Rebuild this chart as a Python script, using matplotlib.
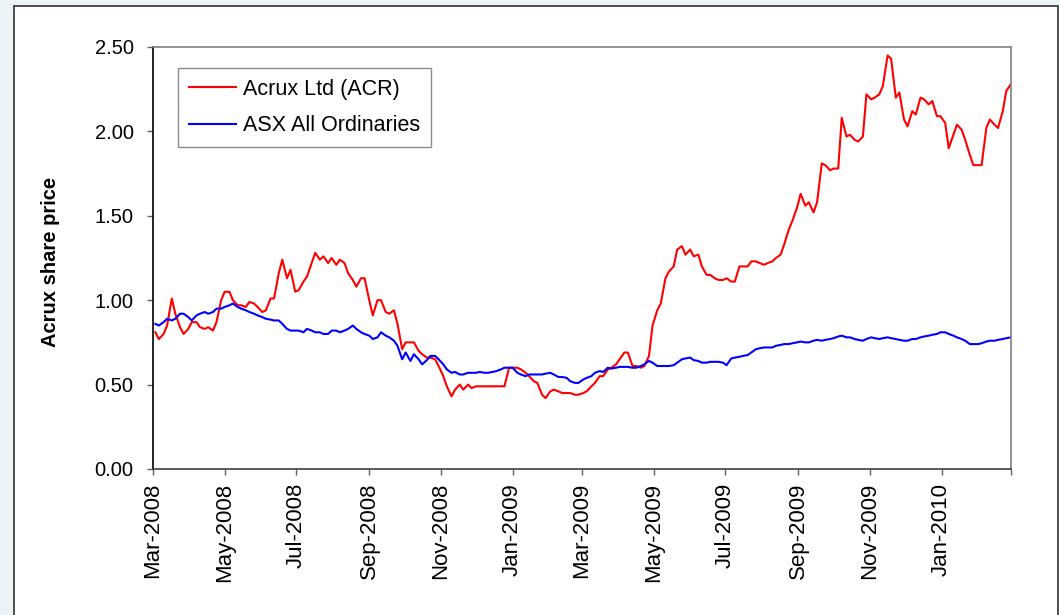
import matplotlib
matplotlib.use("Agg")
import matplotlib.pyplot as plt
import matplotlib.patches as mpatches
import pandas as pd

plt.rcParams['font.family'] = ['Liberation Sans', 'DejaVu Sans']

# weekly dates (Mondays)
dates = [
    "2008-03-03", "2008-03-10", "2008-03-17", "2008-03-24", "2008-03-31",
    "2008-04-07", "2008-04-14", "2008-04-21", "2008-04-28",
    "2008-05-05", "2008-05-12", "2008-05-19", "2008-05-26",
    "2008-06-02", "2008-06-09", "2008-06-16", "2008-06-23", "2008-06-30",
    "2008-07-07", "2008-07-14", "2008-07-21", "2008-07-28",
    "2008-08-04", "2008-08-11", "2008-08-18", "2008-08-25",
    "2008-09-01", "2008-09-08", "2008-09-15", "2008-09-22", "2008-09-29",
    "2008-10-06", "2008-10-13", "2008-10-20", "2008-10-27",
    "2008-11-03", "2008-11-10", "2008-11-17", "2008-11-24",
    "2008-12-01", "2008-12-08", "2008-12-15", "2008-12-22", "2008-12-29",
    "2009-01-05", "2009-01-12", "2009-01-19", "2009-01-26",
    "2009-02-02", "2009-02-09", "2009-02-16", "2009-02-23",
    "2009-03-02", "2009-03-09", "2009-03-16", "2009-03-23", "2009-03-30",
    "2009-04-06", "2009-04-13", "2009-04-20", "2009-04-27",
    "2009-05-04", "2009-05-11", "2009-05-18", "2009-05-25",
    "2009-06-01", "2009-06-08", "2009-06-15", "2009-06-22", "2009-06-29",
    "2009-07-06", "2009-07-13", "2009-07-20", "2009-07-27",
    "2009-08-03", "2009-08-10", "2009-08-17", "2009-08-24", "2009-08-31",
    "2009-09-07", "2009-09-14", "2009-09-21", "2009-09-28",
    "2009-10-05", "2009-10-12", "2009-10-19", "2009-10-26",
    "2009-11-02", "2009-11-09", "2009-11-16", "2009-11-23", "2009-11-30",
    "2009-12-07", "2009-12-14", "2009-12-21", "2009-12-28",
    "2010-01-04", "2010-01-11", "2010-01-18", "2010-01-25",
    "2010-02-01", "2010-02-08", "2010-02-15", "2010-02-22", "2010-03-01",
]

# Acrux closes on Mondays
acr_mon = [
    0.81, 0.80, 1.01, 0.84, 0.83, 0.87, 0.83, 0.82, 1.00, 1.05,
    0.97, 0.96, 0.98, 0.93, 1.01, 1.16, 1.13, 1.05, 1.11, 1.22,
    1.24, 1.22, 1.21, 1.22, 1.12, 1.13, 1.00, 1.00, 0.93, 0.94,
    0.71, 0.75, 0.70, 0.66, 0.65, 0.55, 0.43, 0.50, 0.50, 0.49,
    0.49, 0.49, 0.49, 0.60, 0.60, 0.57, 0.52, 0.44, 0.46, 0.46,
    0.45, 0.44, 0.45, 0.49, 0.55, 0.59, 0.62, 0.69, 0.61, 0.60,
    0.67, 0.94, 1.13, 1.20, 1.32, 1.30, 1.27, 1.15, 1.13, 1.12,
    1.11, 1.20, 1.20, 1.23, 1.21, 1.23, 1.27, 1.42, 1.55, 1.56,
    1.52, 1.81, 1.77, 1.78, 1.97, 1.95, 1.97, 2.19, 2.22, 2.45,
    2.20, 2.07, 2.12, 2.20, 2.16, 2.09, 2.05, 1.98, 2.01, 1.86,
    1.80, 2.02, 2.04, 2.12, 2.28,
]

# Acrux closes on Thursdays (Monday + 3 days)
acr_thu = [
    0.77, 0.85, 0.92, 0.80, 0.87, 0.84, 0.84, 0.87, 1.05, 1.00,
    0.97, 0.99, 0.96, 0.94, 1.01, 1.24, 1.18, 1.06, 1.14, 1.28,
    1.26, 1.25, 1.24, 1.16, 1.08, 1.13, 0.91, 1.00, 0.92, 0.86,
    0.75, 0.75, 0.68, 0.66, 0.61, 0.49, 0.47, 0.47, 0.48, 0.49,
    0.49, 0.49, 0.49, 0.60, 0.59, 0.55, 0.51, 0.42, 0.47, 0.45,
    0.45, 0.44, 0.46, 0.51, 0.55, 0.60, 0.65, 0.69, 0.61, 0.61,
    0.85, 0.98, 1.17, 1.30, 1.27, 1.26, 1.20, 1.15, 1.12, 1.13,
    1.11, 1.20, 1.23, 1.22, 1.22, 1.25, 1.33, 1.47, 1.63, 1.58,
    1.58, 1.80, 1.78, 2.08, 1.98, 1.94, 2.22, 2.20, 2.27, 2.43,
    2.23, 2.03, 2.10, 2.19, 2.18, 2.09, 1.90, 2.04, 1.95, 1.80,
    1.80, 2.07, 2.02, 2.24,
]

# ASX All Ordinaries, rebased, Mondays
asx_mon = [
    0.86, 0.87, 0.88, 0.92, 0.90, 0.91, 0.93, 0.93, 0.95, 0.97,
    0.96, 0.94, 0.92, 0.90, 0.885, 0.88, 0.83, 0.82, 0.81, 0.82,
    0.81, 0.80, 0.82, 0.82, 0.85, 0.81, 0.79, 0.78, 0.79, 0.76,
    0.65, 0.64, 0.65, 0.645, 0.67, 0.62, 0.57, 0.56, 0.57, 0.57,
    0.57, 0.575, 0.59, 0.60, 0.57, 0.55, 0.56, 0.56, 0.57, 0.545,
    0.54, 0.51, 0.53, 0.55, 0.58, 0.60, 0.60, 0.605, 0.60, 0.61,
    0.64, 0.61, 0.61, 0.615, 0.65, 0.66, 0.64, 0.63, 0.635, 0.63,
    0.655, 0.665, 0.675, 0.71, 0.72, 0.72, 0.735, 0.74, 0.75, 0.75,
    0.76, 0.76, 0.77, 0.785, 0.78, 0.77, 0.76, 0.78, 0.77, 0.78,
    0.77, 0.76, 0.77, 0.78, 0.79, 0.80, 0.81, 0.79, 0.77, 0.74,
    0.74, 0.755, 0.76, 0.77, 0.78,
]

# ASX All Ordinaries, rebased, Thursdays
asx_thu = [
    0.85, 0.89, 0.89, 0.92, 0.88, 0.92, 0.92, 0.95, 0.96, 0.98,
    0.95, 0.93, 0.91, 0.89, 0.88, 0.86, 0.82, 0.82, 0.83, 0.81,
    0.80, 0.82, 0.81, 0.83, 0.83, 0.80, 0.77, 0.81, 0.78, 0.73,
    0.69, 0.68, 0.62, 0.67, 0.65, 0.59, 0.575, 0.56, 0.57, 0.575,
    0.57, 0.58, 0.60, 0.60, 0.56, 0.56, 0.56, 0.565, 0.56, 0.545,
    0.52, 0.51, 0.54, 0.57, 0.575, 0.595, 0.605, 0.605, 0.60, 0.62,
    0.63, 0.61, 0.61, 0.63, 0.655, 0.645, 0.63, 0.635, 0.635, 0.615,
    0.66, 0.67, 0.69, 0.715, 0.72, 0.73, 0.74, 0.745, 0.755, 0.75,
    0.765, 0.765, 0.775, 0.79, 0.78, 0.765, 0.77, 0.775, 0.775, 0.775,
    0.765, 0.76, 0.77, 0.785, 0.795, 0.81, 0.80, 0.78, 0.76, 0.74,
    0.745, 0.76, 0.765, 0.775,
]

tick_dates = ["2008-03-01", "2008-05-01", "2008-07-01", "2008-09-01",
              "2008-11-01", "2009-01-01", "2009-03-01", "2009-05-01",
              "2009-07-01", "2009-09-01", "2009-11-01", "2010-01-01",
              "2010-03-01"]
tick_labels = ["Mar-2008", "May-2008", "Jul-2008", "Sep-2008", "Nov-2008",
               "Jan-2009", "Mar-2009", "May-2009", "Jul-2009", "Sep-2009",
               "Nov-2009", "Jan-2010", ""]

mondays = pd.to_datetime(dates)
thursdays = mondays[:-1] + pd.Timedelta(days=3)
acr = pd.concat([pd.Series(acr_mon, index=mondays),
                 pd.Series(acr_thu, index=thursdays)]).sort_index()
asx = pd.concat([pd.Series(asx_mon, index=mondays),
                 pd.Series(asx_thu, index=thursdays)]).sort_index()

fig = plt.figure(figsize=(10.59, 6.15), dpi=100, facecolor='#EBF3F6')
# white panel with dark frame, behind the axes
panel = mpatches.Rectangle((14 / 1059, -0.01), (1058 - 14) / 1059, (609 + 6) / 615,
                           transform=fig.transFigure, facecolor='white',
                           edgecolor='#404040', linewidth=1.3, zorder=-10)
fig.patches.append(panel)

ax = fig.add_axes([153 / 1059, (615 - 469) / 615, (1011 - 153) / 1059, (469 - 47) / 615])
ax.set_zorder(5)
ax.plot(acr.index, acr.values, color='#FF0000', lw=1.5, label='Acrux Ltd (ACR)')
ax.plot(asx.index, asx.values, color='#0000FF', lw=1.5, label='ASX All Ordinaries')

ax.set_xlim(pd.Timestamp("2008-03-01"), pd.Timestamp("2010-03-01"))
ax.set_ylim(0, 2.5)
ax.set_yticks([0, 0.5, 1.0, 1.5, 2.0, 2.5])
ax.set_yticklabels(["0.00", "0.50", "1.00", "1.50", "2.00", "2.50"])
ax.set_xticks(pd.to_datetime(tick_dates))
ax.set_xticklabels(tick_labels, rotation=90)

ax.tick_params(axis='both', direction='out', length=4, color='#606060', width=1)
ax.tick_params(axis='y', labelsize=14.5, pad=10)
ax.tick_params(axis='x', labelsize=16, pad=6)
ax.spines['left'].set_color('black')
ax.spines['bottom'].set_color('#404040')
ax.spines['top'].set_color('#808080')
ax.spines['right'].set_color('#808080')
for s in ax.spines.values():
    s.set_linewidth(1.2)

ax.set_ylabel("Acrux share price", fontsize=14.5, fontweight='bold')
ax.yaxis.set_label_coords(-0.108, 0.49)

leg = ax.legend(loc='upper left', bbox_to_anchor=(0.029, 0.950), fontsize=15.5,
                frameon=True, fancybox=False, borderpad=0.5, labelspacing=0.72,
                handlelength=2.2, handletextpad=0.33, borderaxespad=0)
leg.get_frame().set_edgecolor('#707070')
leg.get_frame().set_linewidth(1.0)

fig.savefig("out.png", dpi=100, facecolor=fig.get_facecolor())
